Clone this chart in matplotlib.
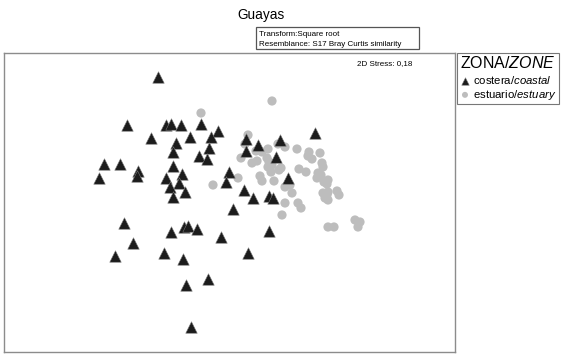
import matplotlib
matplotlib.use("Agg")
import matplotlib.pyplot as plt
from matplotlib.patches import Rectangle

plt.rcParams['font.family'] = ['Liberation Sans', 'DejaVu Sans']
plt.rcParams['mathtext.fontset'] = 'custom'
plt.rcParams['mathtext.rm'] = 'Liberation Sans'
plt.rcParams['mathtext.it'] = 'Liberation Sans:italic'

# nMDS coordinates (arbitrary units)
coastal_x = [158, 127, 166, 171, 181, 201, 218, 151, 190, 211, 176, 173, 209, 199,
             207, 104, 120, 138, 137, 99, 173, 182, 166, 179, 170, 185, 173, 229,
             226, 244, 253, 269, 273, 246, 246, 258, 280, 276, 288, 315, 233, 184,
             188, 197, 221, 269, 124, 133, 115, 171, 164, 183, 248, 208, 186, 191]
coastal_y = [77, 125, 125, 124, 125, 124, 131, 138, 137, 137, 143, 152, 148, 156,
             159, 164, 164, 171, 176, 178, 166, 174, 178, 183, 187, 192, 197, 172,
             182, 190, 198, 196, 198, 139, 151, 145, 140, 157, 178, 133, 209, 227,
             226, 229, 237, 231, 223, 243, 256, 232, 253, 259, 253, 279, 285, 327]

estuary_x = [272, 201, 248, 245, 241, 256, 262, 268, 278, 285, 297, 309, 308, 312,
             320, 252, 257, 267, 269, 272, 268, 281, 279, 271, 299, 306, 322, 323,
             318, 317, 321, 324, 328, 327, 238, 260, 262, 274, 213, 285, 290, 292,
             285, 298, 301, 282, 323, 327, 328, 325, 328, 337, 339, 328, 334, 355,
             360, 358]
estuary_y = [101, 113, 135, 144, 158, 151, 152, 149, 144, 147, 149, 152, 156, 159,
             153, 163, 161, 158, 162, 165, 167, 168, 170, 172, 169, 172, 163, 167,
             173, 178, 175, 182, 180, 184, 178, 176, 181, 181, 185, 187, 185, 193,
             203, 203, 208, 215, 193, 195, 192, 198, 200, 191, 195, 227, 227, 220,
             222, 227]

W, H = 568, 357
fig = plt.figure(figsize=(W / 100, H / 100), dpi=100)
ax = fig.add_axes([4 / W, 1 - 352 / H, 451 / W, 299 / H])

tri = ax.scatter(coastal_x, coastal_y, marker='^', s=68, color='#1c1c1c',
                 edgecolors='#777777', linewidths=0.4, zorder=3)
circ = ax.scatter(estuary_x, estuary_y, marker='o', s=44, color='#bdbdbd',
                  edgecolors='none', zorder=2)

ax.set_xlim(4, 455)
ax.set_ylim(352, 53)
ax.set_xticks([])
ax.set_yticks([])
for sp in ax.spines.values():
    sp.set_color('#8c8c8c')
    sp.set_linewidth(1)

ax.text(0.905, 0.975, "2D Stress: 0,18", transform=ax.transAxes, fontsize=5.8,
        ha='right', va='top')

fig.text(261 / W, 1 - 15 / H, "Guayas", fontsize=9.8, ha='center', va='center')

# transform / resemblance box
fig.patches.append(Rectangle((256 / W, 1 - 49 / H), 163 / W, 22 / H,
                             transform=fig.transFigure, fill=False,
                             edgecolor='#555555', linewidth=0.9))
fig.text(259 / W, 1 - 34 / H, "Transform:Square root", fontsize=5.8, va='center')
fig.text(259 / W, 1 - 44 / H, "Resemblance: S17 Bray Curtis similarity",
         fontsize=5.8, va='center')

leg = fig.legend([tri, circ],
                 ["costera/$\\mathit{coastal}$", "estuario/$\\mathit{estuary}$"],
                 title="ZONA/$\\mathit{ZONE}$", loc='upper left',
                 bbox_to_anchor=(457 / W, 1 - 53 / H), borderaxespad=0,
                 fontsize=8.2, title_fontsize=11.5, fancybox=False,
                 edgecolor='#777777', framealpha=1, handletextpad=0.2,
                 handlelength=1.0, borderpad=0.2, labelspacing=0.2,
                 markerscale=0.65)
leg.get_frame().set_linewidth(0.8)

fig.savefig("out.png", dpi=100)
